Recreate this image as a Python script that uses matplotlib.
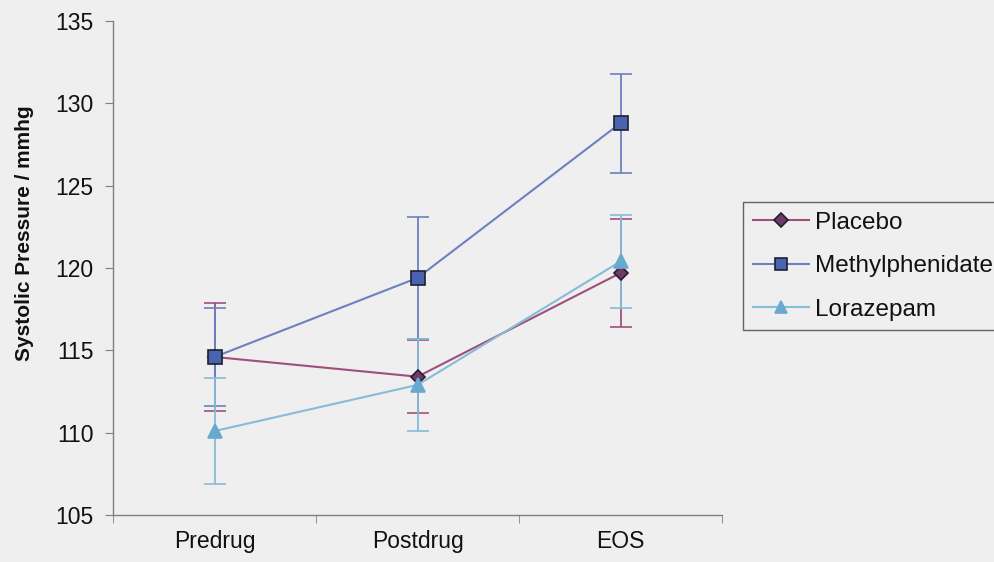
import numpy as np
import matplotlib.pyplot as plt

plt.rcParams['font.family'] = ['Liberation Sans', 'DejaVu Sans']

# mean systolic pressure and error per condition
sessions = ['Predrug', 'Postdrug', 'EOS']
placebo = [114.6, 113.4, 119.7]
placebo_err = [3.3, 2.2, 3.3]
methylphenidate = [114.6, 119.4, 128.8]
methylphenidate_err = [3.0, 3.7, 3.0]
lorazepam = [110.1, 112.9, 120.4]
lorazepam_err = [3.2, 2.8, 2.8]

series = [
    ('Placebo', placebo, placebo_err, '#a04f7c', 'D', '#6e3a66', '#2a1a30', 7.5),
    ('Methylphenidate', methylphenidate, methylphenidate_err, '#6d80c0', 's', '#4a63b0', '#1c2030', 9.5),
    ('Lorazepam', lorazepam, lorazepam_err, '#86bcd8', '^', '#6aa9cf', '#6aa9cf', 9.5),
]

bg = '#efefef'
ink = '#111111'
fig = plt.figure(figsize=(9.94, 5.62), dpi=100, facecolor=bg)
ax = fig.add_axes([0.1137, 0.0836, 0.6127, 0.879])
ax.set_facecolor(bg)

x = np.arange(len(sessions))
for name, vals, errs, col, mk, mfc, mec, ms in series:
    ax.errorbar(x, vals, yerr=errs, color=col, ecolor=col, elinewidth=1.3,
                capsize=8, capthick=1.3, lw=1.5, marker=mk, markersize=ms,
                markerfacecolor=mfc, markeredgecolor=mec, markeredgewidth=1.2,
                label=name)

ax.set_xlim(-0.5, len(sessions) - 0.5)
ax.set_ylim(105, 135)
ax.set_yticks(np.arange(105, 136, 5))
ax.set_xticks(x)
ax.set_xticklabels(sessions)
ax.set_xticks(np.arange(-0.5, len(sessions)), minor=True)
ax.tick_params(axis='x', which='major', length=0, pad=11, labelsize=16.5, labelcolor=ink)
ax.tick_params(axis='x', which='minor', length=6, color='#808080', direction='out')
ax.tick_params(axis='y', length=6, color='#808080', labelsize=16.5, pad=8, labelcolor=ink)

for side in ['top', 'right']:
    ax.spines[side].set_visible(False)
for side in ['left', 'bottom']:
    ax.spines[side].set_color('#808080')
    ax.spines[side].set_linewidth(1.0)

fig.text(25 / 994, 1 - 233.5 / 562, 'Systolic Pressure / mmhg', rotation=90,
         ha='center', va='center', fontsize=15, fontweight='bold', color=ink)

handles, labels = ax.get_legend_handles_labels()
handles = [h[0] for h in handles]
leg = fig.legend(handles, labels, loc='upper left', bbox_to_anchor=(0.7475, 0.6406),
                 fontsize=17.5, frameon=True, fancybox=False, edgecolor='#404040',
                 facecolor=bg, handlelength=2.3, borderpad=0.4,
                 labelspacing=0.88, handletextpad=0.25, borderaxespad=0,
                 markerscale=0.9)
leg.get_frame().set_linewidth(1.0)
for t in leg.get_texts():
    t.set_color(ink)

fig.savefig('out.png', dpi=100, facecolor=fig.get_facecolor())
